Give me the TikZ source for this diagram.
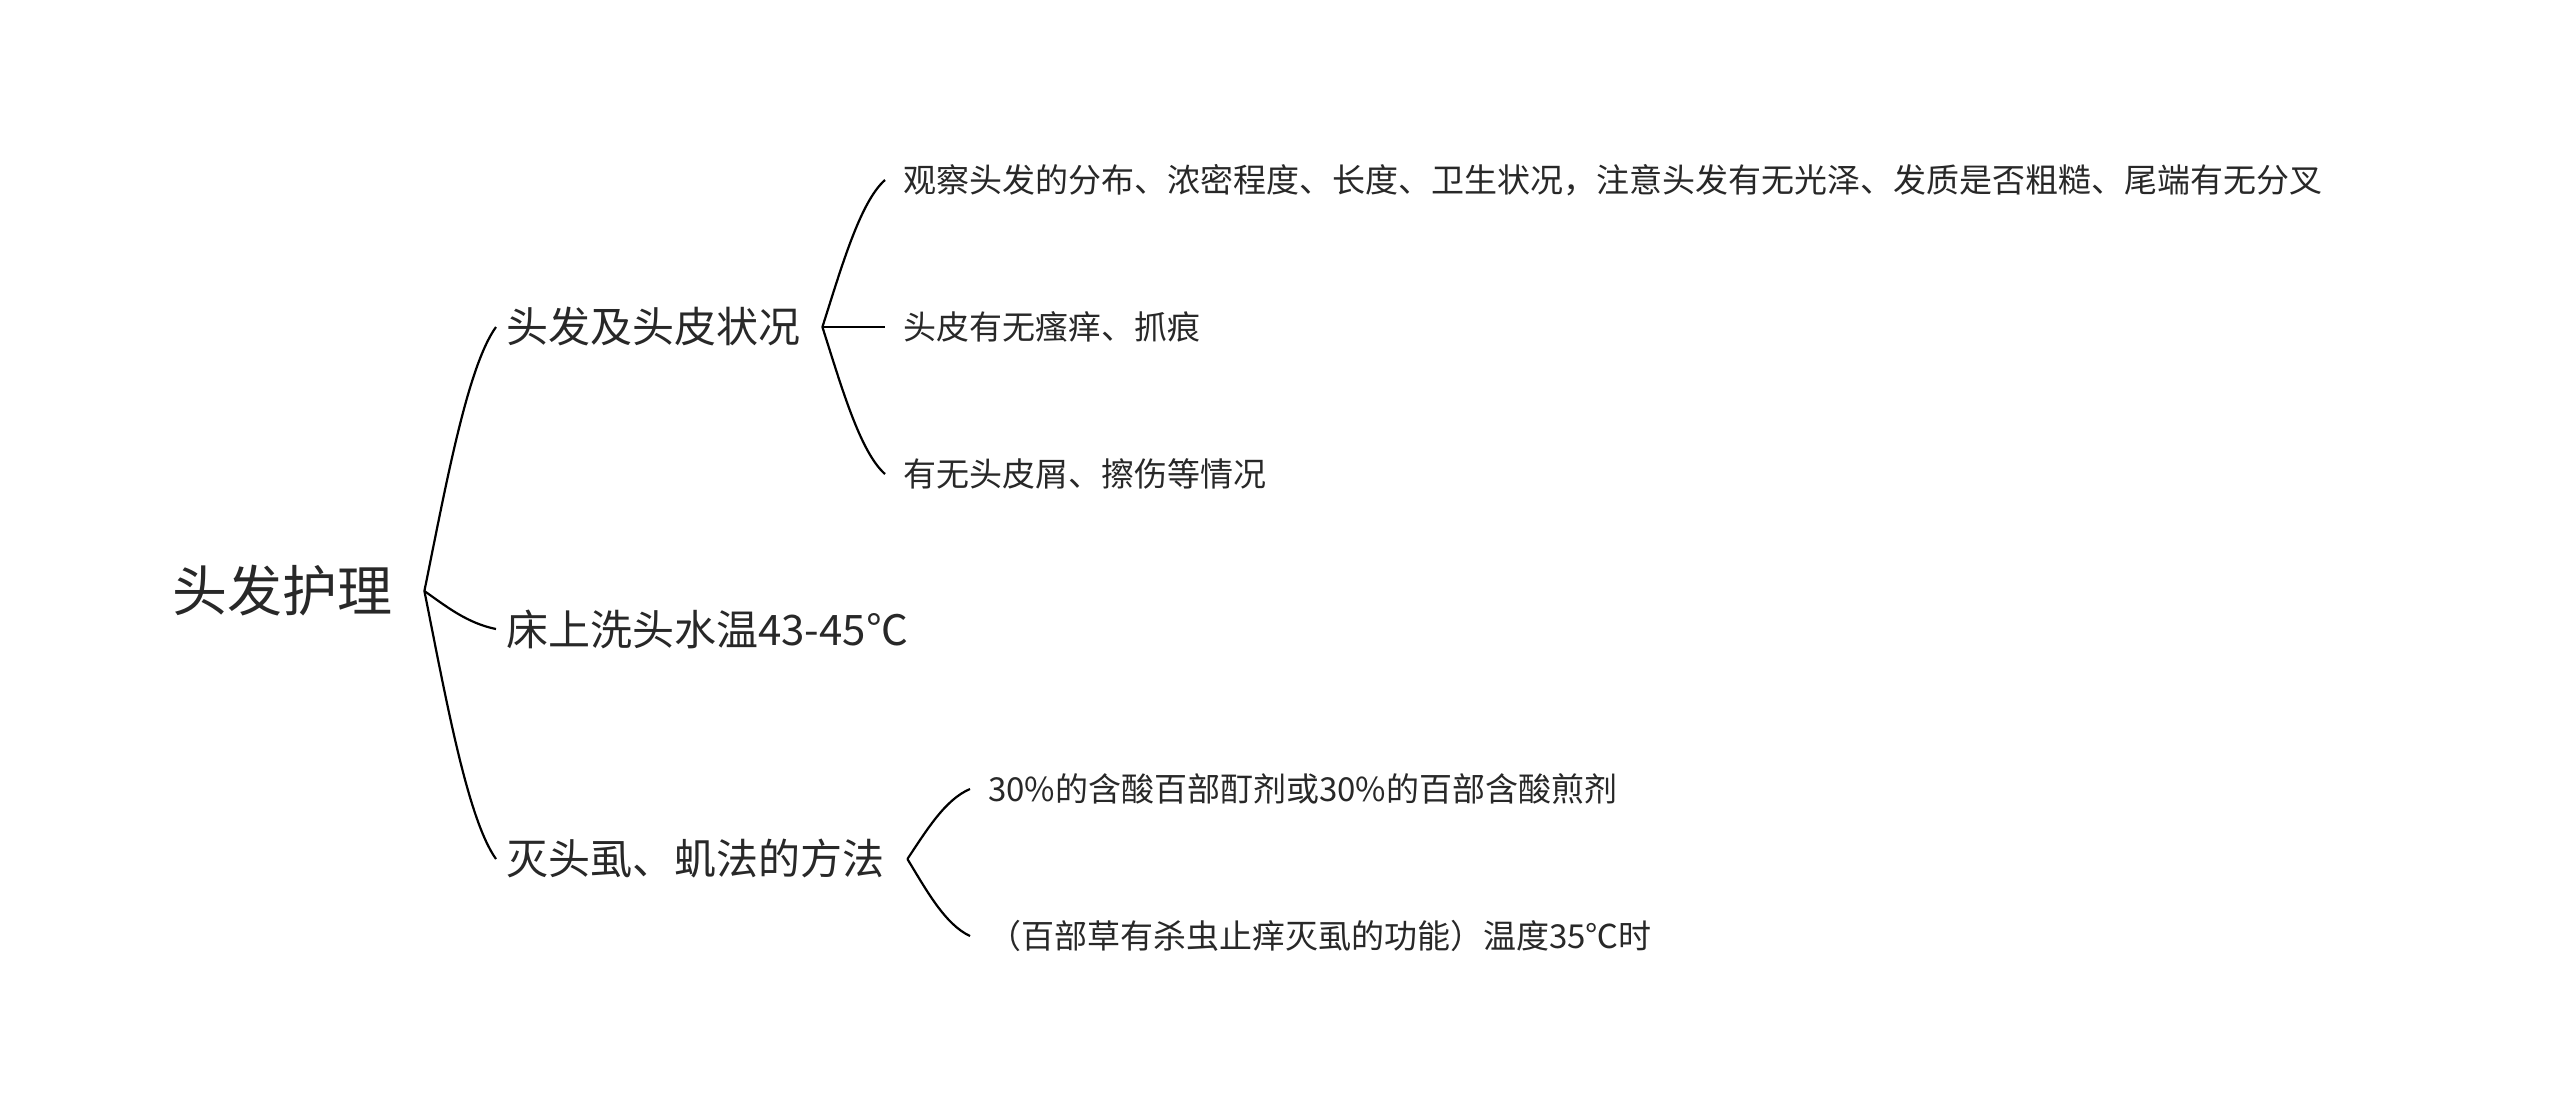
\documentclass[tikz,border=0pt]{standalone}
\usepackage{fontspec}
\setmainfont{Noto Sans CJK SC}
\usetikzlibrary{calc}
\definecolor{txtc}{RGB}{40,40,40}
\tikzset{
  basetxt/.style={anchor=west, inner sep=0pt, text=txtc},
  roottxt/.style={basetxt, font=\fontsize{55}{66}\selectfont},
  lonetxt/.style={basetxt, font=\fontsize{42}{50}\selectfont},
  ltwotxt/.style={basetxt, font=\fontsize{33}{40}\selectfont},
  conn/.style={draw=black, line width=2.2pt},
}
\newcommand\curvelink[2]{%
  \path[conn] (#1) let \p1=(#1), \p2=(#2), \n1={\x2-\x1}, \n2={\y2-\y1} in
    .. controls (\x1+0.3*\n1, \y1+0.4*\n2) and (\x2-0.4*\n1, \y2-0.15*\n2) .. (\p2);}
\begin{document}
\begin{tikzpicture}[x=1pt, y=1pt]
  \path[fill=white] (0,0) rectangle (2560,-1111);
  \useasboundingbox (0,0) rectangle (2560,-1111);

  \node[roottxt] (root) at (172,-591) {头发护理};

  \node[lonetxt] (na) at (506,-327) {头发及头皮状况};
  \node[lonetxt] (nb) at (506,-629) {床上洗头水温43-45℃};
  \node[lonetxt] (nc) at (506,-859) {灭头虱、虮法的方法};

  \node[ltwotxt] (na1) at (903,-180) {观察头发的分布、浓密程度、长度、卫生状况，注意头发有无光泽、发质是否粗糙、尾端有无分叉};
  \node[ltwotxt] (na2) at (903,-327) {头皮有无瘙痒、抓痕};
  \node[ltwotxt] (na3) at (903,-474) {有无头皮屑、擦伤等情况};

  \node[ltwotxt] (nc1) at (988,-789) {30\%的含酸百部酊剂或30\%的百部含酸煎剂};
  \node[ltwotxt] (nc2) at (988,-936) {（百部草有杀虫止痒灭虱的功能）温度35℃时};

  \coordinate (vr) at ($(root.east)+(32,0)$);
  \coordinate (va) at ($(na.east)+(22,0)$);
  \coordinate (vc) at ($(nc.east)+(23,0)$);

  \coordinate (ea) at ($(na.west)+(-10,0)$);
  \coordinate (eb) at ($(nb.west)+(-10,0)$);
  \coordinate (ec) at ($(nc.west)+(-10,0)$);
  \coordinate (ea1) at ($(na1.west)+(-18,0)$);
  \coordinate (ea2) at ($(na2.west)+(-18,0)$);
  \coordinate (ea3) at ($(na3.west)+(-18,0)$);
  \coordinate (ec1) at ($(nc1.west)+(-18,0)$);
  \coordinate (ec2) at ($(nc2.west)+(-18,0)$);

  \curvelink{vr}{ea}
  \curvelink{vr}{eb}
  \curvelink{vr}{ec}
  \curvelink{va}{ea1}
  \curvelink{va}{ea2}
  \curvelink{va}{ea3}
  \curvelink{vc}{ec1}
  \curvelink{vc}{ec2}
\end{tikzpicture}
\end{document}
